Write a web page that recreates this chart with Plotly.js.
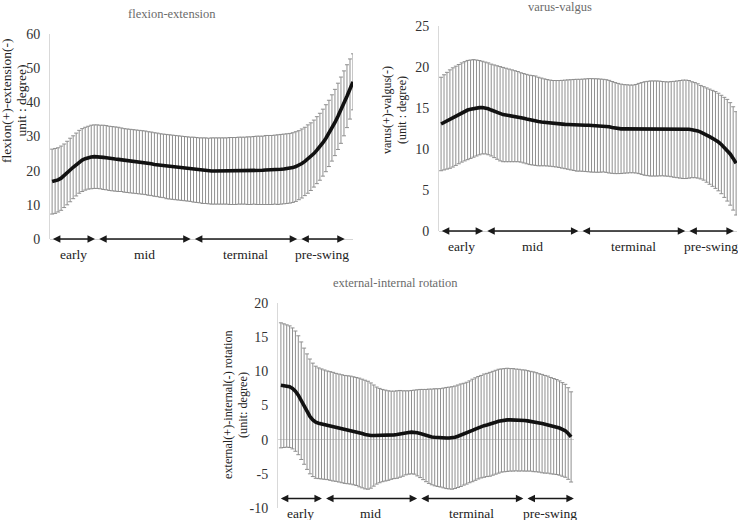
<!DOCTYPE html>
<html><head><meta charset="utf-8">
<script src="https://cdn.plot.ly/plotly-3.0.1.min.js"></script>
<style>html,body{margin:0;padding:0;background:#fff}#chart{width:738px;height:520px}</style>
</head><body><div id="chart"></div>
<script>
// percent of stance phase
const stance = [0,1,2,3,4,5,6,7,8,9,10,11,12,13,14,15,16,17,18,19,20,21,22,23,24,25,26,27,28,29,30,31,32,33,34,35,36,37,38,39,40,41,42,43,44,45,46,47,48,49,50,51,52,53,54,55,56,57,58,59,60,61,62,63,64,65,66,67,68,69,70,71,72,73,74,75,76,77,78,79,80,81,82,83,84,85,86,87,88,89,90,91,92,93,94,95,96,97,98,99,100];

const flexMean = [16.8,17.0,17.3,17.8,18.5,19.3,20.2,21.0,21.8,22.6,
 23.1,23.5,23.8,24.0,24.1,24.1,24.0,23.9,23.8,23.6,
 23.5,23.4,23.3,23.2,23.0,22.9,22.8,22.7,22.6,22.5,
 22.4,22.3,22.1,22.0,21.8,21.7,21.5,21.4,21.2,21.1,
 21.0,20.9,20.8,20.7,20.6,20.5,20.4,20.3,20.2,20.1,
 20.0,20.0,19.9,19.9,19.9,19.9,19.9,19.9,19.9,19.9,
 19.9,19.9,20.0,20.0,20.0,20.0,20.0,20.1,20.1,20.1,
 20.1,20.2,20.2,20.2,20.3,20.3,20.4,20.5,20.6,20.7,
 20.9,21.2,21.6,22.1,22.7,23.4,24.1,25.0,26.0,27.0,
 28.2,29.5,30.9,32.5,34.1,35.9,37.7,39.7,41.8,43.9,46.0];
const flexSD = [9.5,9.5,9.4,9.4,9.3,9.3,9.3,9.2,9.2,9.2,
 9.2,9.2,9.2,9.3,9.3,9.3,9.3,9.4,9.4,9.4,
 9.4,9.4,9.4,9.3,9.3,9.3,9.3,9.3,9.3,9.3,
 9.3,9.3,9.3,9.3,9.3,9.3,9.3,9.3,9.4,9.4,
 9.4,9.4,9.4,9.4,9.4,9.4,9.4,9.5,9.5,9.5,
 9.6,9.6,9.6,9.7,9.7,9.7,9.7,9.7,9.7,9.8,
 9.8,9.8,9.8,9.8,9.8,9.9,9.9,9.9,10.0,10.0,
 10.0,10.1,10.1,10.1,10.1,10.2,10.2,10.2,10.2,10.2,
 10.2,10.2,10.1,10.1,10.0,10.0,9.9,9.8,9.8,9.8,
 9.8,9.8,9.7,9.7,9.7,9.7,9.7,9.5,9.2,8.8,8.2];

const varusMean = [13.05,13.25,13.45,13.65,13.85,14.05,14.25,14.45,14.6,14.75,
 14.85,14.95,15.0,15.04,15.05,15.0,14.9,14.75,14.6,14.45,
 14.3,14.2,14.15,14.1,14.05,14.0,13.95,13.85,13.75,13.65,
 13.55,13.5,13.45,13.35,13.3,13.25,13.2,13.15,13.1,13.08,
 13.05,13.02,13.0,12.98,12.95,12.93,12.9,12.9,12.9,12.9,
 12.9,12.88,12.87,12.86,12.85,12.85,12.8,12.72,12.63,12.55,
 12.5,12.46,12.45,12.45,12.45,12.45,12.47,12.5,12.5,12.5,
 12.5,12.5,12.5,12.5,12.5,12.48,12.45,12.43,12.42,12.4,
 12.4,12.4,12.4,12.4,12.4,12.35,12.3,12.2,12.05,11.9,
 11.7,11.5,11.3,11.1,10.85,10.55,10.2,9.85,9.4,8.85,8.25];
const varusSD = [5.7,5.8,5.9,6.0,6.05,6.05,6.05,6.05,6.05,6.05,
 6.0,5.95,5.85,5.75,5.65,5.6,5.6,5.6,5.65,5.7,
 5.75,5.75,5.7,5.65,5.6,5.55,5.5,5.45,5.45,5.45,
 5.45,5.45,5.45,5.4,5.35,5.3,5.27,5.25,5.25,5.27,
 5.3,5.35,5.4,5.45,5.5,5.55,5.6,5.6,5.62,5.65,
 5.68,5.7,5.7,5.7,5.68,5.65,5.65,5.65,5.6,5.55,
 5.5,5.45,5.4,5.38,5.35,5.35,5.4,5.5,5.6,5.7,
 5.75,5.8,5.8,5.8,5.78,5.75,5.75,5.75,5.8,5.85,
 5.9,5.95,6.0,6.0,5.95,5.85,5.8,5.75,5.7,5.7,
 5.75,5.8,5.85,5.9,5.95,6.0,6.1,6.2,6.25,6.3,6.3];

const rotMean = [7.95,7.9,7.85,7.75,7.5,7.1,6.5,5.7,4.9,4.1,
 3.4,2.9,2.55,2.4,2.3,2.2,2.1,2.0,1.9,1.8,
 1.7,1.6,1.5,1.45,1.4,1.3,1.2,1.05,0.9,0.75,
 0.65,0.6,0.6,0.6,0.6,0.6,0.6,0.6,0.65,0.7,
 0.75,0.85,0.9,1.0,1.05,1.1,1.1,1.0,0.9,0.75,
 0.6,0.5,0.4,0.35,0.3,0.27,0.25,0.24,0.24,0.25,
 0.35,0.5,0.65,0.8,0.95,1.15,1.35,1.55,1.75,1.9,
 2.05,2.15,2.25,2.4,2.55,2.7,2.8,2.85,2.9,2.9,
 2.9,2.88,2.85,2.82,2.8,2.75,2.7,2.62,2.55,2.45,
 2.35,2.25,2.2,2.05,1.95,1.85,1.7,1.5,1.3,0.9,0.4];
const rotSD = [9.15,9.05,8.95,8.9,8.85,8.8,8.7,8.6,8.5,8.45,
 8.4,8.3,8.2,8.1,8.05,8.0,7.95,7.95,7.95,7.9,
 7.9,7.9,7.9,7.9,7.9,7.9,7.9,7.95,7.95,7.95,
 7.9,7.7,7.4,7.1,6.9,6.75,6.65,6.55,6.45,6.4,
 6.4,6.35,6.25,6.15,6.1,6.1,6.15,6.3,6.45,6.6,
 6.75,6.9,7.0,7.1,7.15,7.2,7.3,7.4,7.45,7.5,
 7.5,7.5,7.5,7.45,7.45,7.45,7.5,7.5,7.5,7.5,
 7.55,7.55,7.6,7.6,7.6,7.6,7.55,7.55,7.55,7.5,
 7.5,7.45,7.45,7.4,7.4,7.35,7.3,7.3,7.25,7.2,
 7.2,7.15,7.1,7.05,7.0,6.95,6.9,6.85,6.8,6.7,6.6];

const phaseNames = ['early','mid','terminal','pre-swing'];
const flexPhaseBounds = [-0.7, 14.7, 46.5, 81.9, 97.7];
const varusPhaseBounds = [-0.7, 14.7, 47.0, 83.2, 99.7];
const rotPhaseBounds = [-1.0, 14.6, 47.4, 84.0, 101.4];

const flexTicks = [0,10,20,30,40,50,60];
const varusTicks = [0,5,10,15,20,25];
const rotTicks = [-10,-5,0,5,10,15,20];
const rotTickText = ['-10','-5','0','5','10','15','20'];

const titles = ['flexion-extension','varus-valgus','external-internal rotation'];
const yTitleLines = [
  ['flexion(+)-extension(-)', 'unit : degree)'],
  ['varus(+)-valgus(-)', '(unit : degree)'],
  ['external(+)-internal(-) rotation', '(unit: degree)']
];

const W = 738, H = 520;
const SERIF = 'Liberation Serif, Times New Roman, DejaVu Serif, serif';
const px = v => v / W, py = v => 1 - v / H;

function meanTrace(x, y, sd, xa, ya) {
  return {
    x: x, y: y, xaxis: xa, yaxis: ya, type: 'scatter', mode: 'lines',
    line: {color: '#111', width: 3.6},
    error_y: {type: 'data', array: sd, visible: true, color: '#8f8f8f', thickness: 1, width: 2},
    hoverinfo: 'skip', showlegend: false
  };
}

const data = [
  meanTrace(stance, flexMean, flexSD, 'x', 'y'),
  meanTrace(stance, varusMean, varusSD, 'x2', 'y2'),
  meanTrace(stance, rotMean, rotSD, 'x3', 'y3')
];

const annotations = [];
function phaseArrows(bounds, level, xr, yr) {
  const gap = 0.45;
  for (let k = 0; k < phaseNames.length; k++) {
    annotations.push({
      x: bounds[k+1] - gap, y: level, ax: bounds[k] + gap, ay: level,
      xref: xr, yref: yr, axref: xr, ayref: yr, text: '', showarrow: true,
      arrowside: 'end+start', arrowhead: 2, startarrowhead: 2,
      arrowsize: 1, startarrowsize: 1, arrowwidth: 1.5, arrowcolor: '#1a1a1a'
    });
    annotations.push({
      x: (bounds[k] + bounds[k+1]) / 2, y: level, xref: xr, yref: yr,
      yshift: -15, text: phaseNames[k], showarrow: false,
      font: {family: SERIF, size: 13.5, color: '#222'}
    });
  }
}
phaseArrows(flexPhaseBounds, 0, 'x', 'y');
phaseArrows(varusPhaseBounds, 0, 'x2', 'y2');
phaseArrows(rotPhaseBounds, -8.6, 'x3', 'y3');

const titlePos = [[172, 14, 12.5], [560, 7, 12.5], [395, 283, 12.5]];
titles.forEach((t, i) => annotations.push({
  x: px(titlePos[i][0]), y: py(titlePos[i][1]), xref: 'paper', yref: 'paper',
  xanchor: 'center', yanchor: 'middle', text: t, showarrow: false,
  font: {family: SERIF, size: titlePos[i][2], color: '#6b6b6b'}
}));
// [line1 x, line2 x, center y, font size]
const yTitlePos = [[7, 21.5, 101, 13.5], [387, 402, 110, 12], [228, 243, 405, 12.2]];
yTitleLines.forEach((lines, i) => lines.forEach((t, j) => annotations.push({
  x: px(yTitlePos[i][j]), y: py(yTitlePos[i][2]), xref: 'paper', yref: 'paper',
  xanchor: 'center', yanchor: 'middle', textangle: -90, text: t, showarrow: false,
  font: {family: SERIF, size: yTitlePos[i][3], color: '#222'}
})));

function xAx(d0, d1, r, anchor) {
  return {domain: [px(d0), px(d1)], range: r, anchor: anchor, showgrid: false, zeroline: false,
    showline: false, showticklabels: false, ticks: '', fixedrange: true};
}
function yAx(top, bottom, r, tv, tt, anchor) {
  return {domain: [py(bottom), py(top)], range: r, anchor: anchor, tickmode: 'array', tickvals: tv,
    ticktext: tt, showgrid: false, zeroline: true, zerolinecolor: '#d4d4d4', zerolinewidth: 1,
    showline: true, linecolor: '#d9d9d9', linewidth: 1, ticks: '', ticklabelstandoff: 6,
    tickfont: {family: SERIF, size: 14, color: '#333'}, fixedrange: true};
}

const layout = {
  width: W, height: H, margin: {l: 0, r: 0, t: 0, b: 0},
  font: {family: SERIF},
  paper_bgcolor: '#fff', plot_bgcolor: 'rgba(0,0,0,0)', showlegend: false,
  xaxis: xAx(50, 353, [-0.7, 100.0], 'y'),
  yaxis: yAx(34, 239, [0, 60], flexTicks, flexTicks.map(String), 'x'),
  xaxis2: xAx(439, 737, [-0.7, 100.3], 'y2'),
  yaxis2: yAx(26, 231, [0, 25], varusTicks, varusTicks.map(String), 'x2'),
  xaxis3: xAx(278, 574, [-1.0, 101.0], 'y3'),
  yaxis3: yAx(303, 508, [-10, 20], rotTicks, rotTickText, 'x3'),
  annotations: annotations
};

Plotly.newPlot('chart', data, layout, {staticPlot: true, displayModeBar: false});
</script>
</body></html>
